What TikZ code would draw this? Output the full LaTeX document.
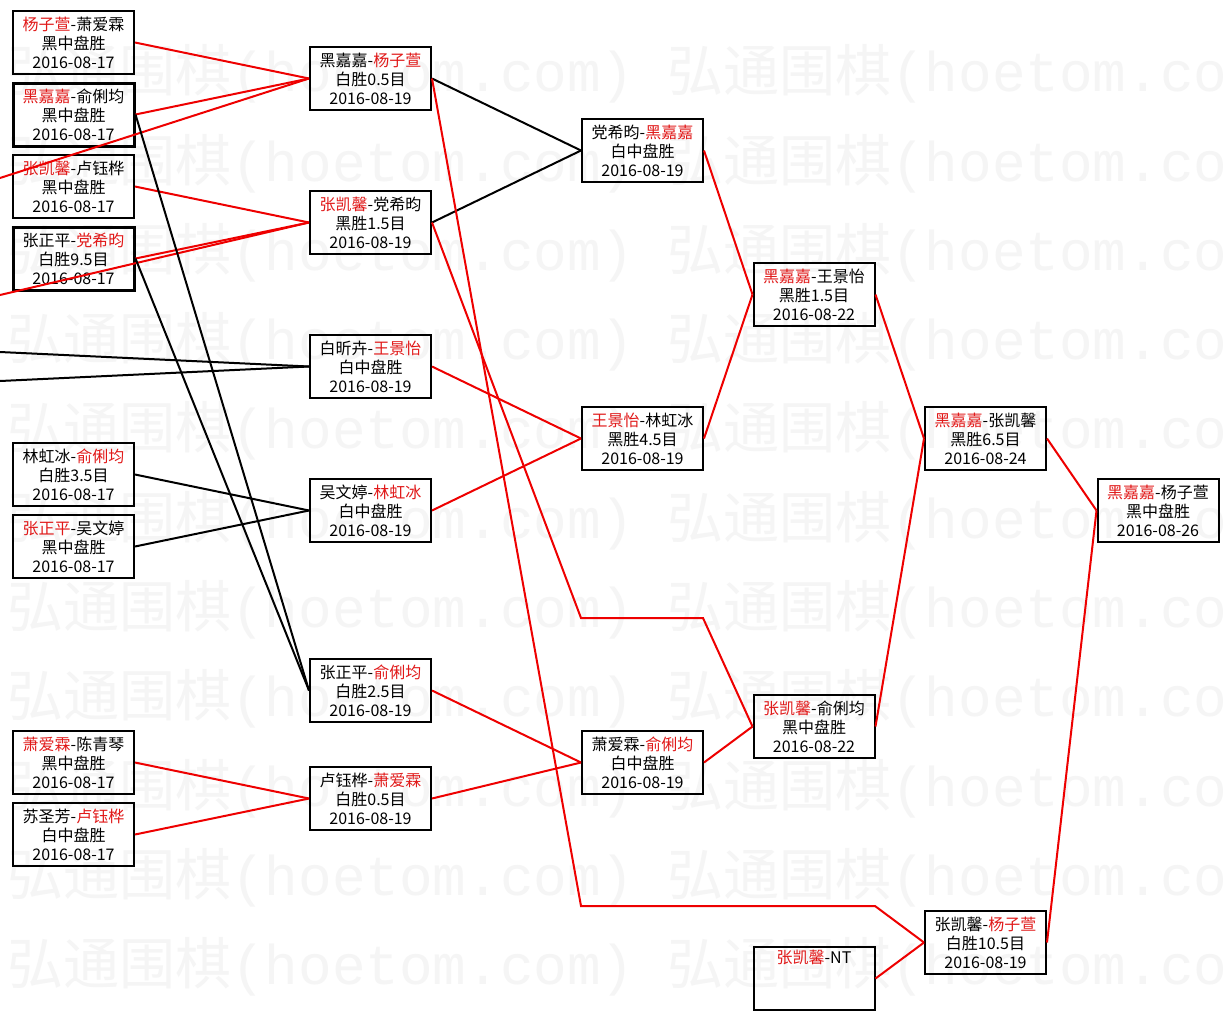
\documentclass[tikz,border=0pt]{standalone}
\usepackage{fontspec}
\setmainfont{Noto Sans CJK SC}
\newfontfamily\wmmono{Liberation Mono}
\definecolor{lred}{RGB}{238,0,0}
\definecolor{tred}{RGB}{225,25,25}
\definecolor{wm}{RGB}{245,245,245}
\newcommand{\rd}[1]{\textcolor{tred}{#1}}
\tikzset{
  gamebox/.style={draw=black, line width=2pt, minimum width=121pt, minimum height=63pt,
    inner sep=0pt, align=center, font=\fontsize{16}{19}\selectfont},
  boldbox/.style={gamebox, line width=3pt},
  win/.style={draw=lred, line width=2pt},
  lose/.style={draw=black, line width=2pt},
  wmark/.style={anchor=west, inner sep=0pt, text=wm, font=\fontsize{56}{60}\selectfont}
}
\begin{document}
\begin{tikzpicture}[x=1pt,y=-1pt]
\fill[white] (0,0) rectangle (1228,1021);
\useasboundingbox (0,0) rectangle (1228,1021);
% watermark
\begin{scope}
\clip (0,0) rectangle (1228,1021);
\foreach \k in {0,...,10} {
  \node[wmark] (wa\k) at (7,74+89.3*\k) {弘通围棋{\wmmono (hoetom.com)}};
  \node[wmark] (wb\k) at (667,74+89.3*\k) {弘通围棋{\wmmono (hoetom.com)}};
}
\end{scope}
% column A
\node[gamebox] (A1) at (73.5,42.5) {\rd{杨子萱}-萧爱霖\\黑中盘胜\\2016-08-17};
\node[boldbox] (A2) at (73.5,114.5) {\rd{黑嘉嘉}-俞俐均\\黑中盘胜\\2016-08-17};
\node[gamebox] (A3) at (73.5,186.5) {\rd{张凯馨}-卢钰桦\\黑中盘胜\\2016-08-17};
\node[boldbox] (A4) at (73.5,258.5) {张正平-\rd{党希昀}\\白胜9.5目\\2016-08-17};
\node[gamebox] (A5) at (73.5,474.5) {林虹冰-\rd{俞俐均}\\白胜3.5目\\2016-08-17};
\node[gamebox] (A6) at (73.5,546.5) {\rd{张正平}-吴文婷\\黑中盘胜\\2016-08-17};
\node[gamebox] (A7) at (73.5,762.5) {\rd{萧爱霖}-陈青琴\\黑中盘胜\\2016-08-17};
\node[gamebox] (A8) at (73.5,834.5) {苏圣芳-\rd{卢钰桦}\\白中盘胜\\2016-08-17};
% column B
\node[gamebox] (B1) at (370.5,78.5) {黑嘉嘉-\rd{杨子萱}\\白胜0.5目\\2016-08-19};
\node[gamebox] (B2) at (370.5,222.5) {\rd{张凯馨}-党希昀\\黑胜1.5目\\2016-08-19};
\node[gamebox] (B3) at (370.5,366.5) {白昕卉-\rd{王景怡}\\白中盘胜\\2016-08-19};
\node[gamebox] (B4) at (370.5,510.5) {吴文婷-\rd{林虹冰}\\白中盘胜\\2016-08-19};
\node[gamebox] (B5) at (370.5,690.5) {张正平-\rd{俞俐均}\\白胜2.5目\\2016-08-19};
\node[gamebox] (B6) at (370.5,798.5) {卢钰桦-\rd{萧爱霖}\\白胜0.5目\\2016-08-19};
% column C
\node[gamebox] (C1) at (642.5,150.5) {党希昀-\rd{黑嘉嘉}\\白中盘胜\\2016-08-19};
\node[gamebox] (C2) at (642.5,438.5) {\rd{王景怡}-林虹冰\\黑胜4.5目\\2016-08-19};
\node[gamebox] (C3) at (642.5,762.5) {萧爱霖-\rd{俞俐均}\\白中盘胜\\2016-08-19};
% column D
\node[gamebox] (D1) at (814,294.5) {\rd{黑嘉嘉}-王景怡\\黑胜1.5目\\2016-08-22};
\node[gamebox] (D2) at (814,726.5) {\rd{张凯馨}-俞俐均\\黑中盘胜\\2016-08-22};
\node[gamebox] (D3) at (814,978.5) {\rd{张凯馨}-NT\\\strut\\\strut};
% column E
\node[gamebox] (E1) at (985.5,438.5) {\rd{黑嘉嘉}-张凯馨\\黑胜6.5目\\2016-08-24};
\node[gamebox] (E2) at (985.5,942.5) {张凯馨-\rd{杨子萱}\\白胜10.5目\\2016-08-19};
% column F
\node[gamebox] (F1) at (1158,510.5) {\rd{黑嘉嘉}-杨子萱\\黑中盘胜\\2016-08-26};
% free ends and bends
\coordinate (L1) at (0,178);
\coordinate (L2) at (0,295);
\coordinate (L3) at (0,352);
\coordinate (L4) at (0,381);
\coordinate (R1a) at (581,618);
\coordinate (R1b) at (703,618);
\coordinate (R2a) at (581,906);
\coordinate (R2b) at (875,906);
% connectors
\draw[win] (A1.east) -- (B1.west);
\draw[win] (A2.east) -- (B1.west);
\draw[win] (L1) -- (B1.west);
\draw[win] (A3.east) -- (B2.west);
\draw[win] (A4.east) -- (B2.west);
\draw[win] (L2) -- (B2.west);
\draw[lose] (L3) -- (B3.west);
\draw[lose] (L4) -- (B3.west);
\draw[lose] (A5.east) -- (B4.west);
\draw[lose] (A6.east) -- (B4.west);
\draw[lose] (A2.east) -- (B5.west);
\draw[lose] (A4.east) -- (B5.west);
\draw[win] (A7.east) -- (B6.west);
\draw[win] (A8.east) -- (B6.west);
\draw[lose] (B1.east) -- (C1.west);
\draw[lose] (B2.east) -- (C1.west);
\draw[win] (B3.east) -- (C2.west);
\draw[win] (B4.east) -- (C2.west);
\draw[win] (B5.east) -- (C3.west);
\draw[win] (B6.east) -- (C3.west);
\draw[win] (C1.east) -- (D1.west);
\draw[win] (C2.east) -- (D1.west);
\draw[win] (B2.east) -- (R1a) -- (R1b) -- (D2.west);
\draw[win] (C3.east) -- (D2.west);
\draw[win] (D1.east) -- (E1.west);
\draw[win] (D2.east) -- (E1.west);
\draw[win] (B1.east) -- (R2a) -- (R2b) -- (E2.west);
\draw[win] (D3.east) -- (E2.west);
\draw[win] (E1.east) -- (F1.west);
\draw[win] (E2.east) -- (F1.west);
\end{tikzpicture}
\end{document}
